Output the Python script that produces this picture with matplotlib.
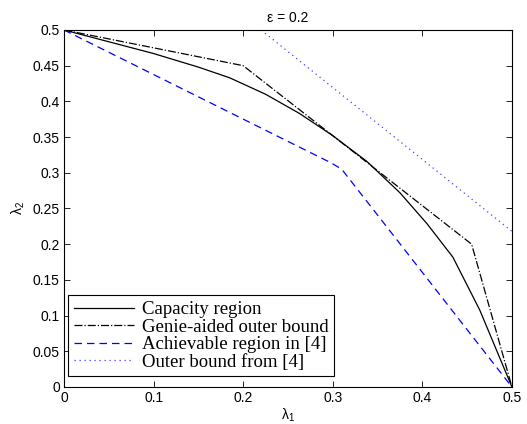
import numpy as np
import matplotlib
matplotlib.use('Agg')
import matplotlib.pyplot as plt

plt.rcParams['font.family'] = ['Liberation Sans', 'DejaVu Sans']
plt.rcParams['mathtext.fontset'] = 'custom'
plt.rcParams['mathtext.rm'] = 'Liberation Sans'

# capacity region (solid)
cap_x = [0.0, 0.1, 0.15, 0.185, 0.225, 0.263, 0.3, 0.338, 0.375, 0.405, 0.434, 0.464, 0.5]
cap_y = [0.5, 0.467, 0.448, 0.433, 0.41, 0.383, 0.352, 0.316, 0.272, 0.229, 0.182, 0.108, 0.0]

# genie-aided outer bound (dash-dot)
gen_x = [0.0, 0.2, 0.455, 0.5]
gen_y = [0.5, 0.45, 0.2, 0.0]

# achievable region in [4] (dashed)
ach_x = [0.0, 0.298, 0.31, 0.5]
ach_y = [0.5, 0.314, 0.305, 0.0]

# outer bound from [4] (dotted)
ob_x = [0.22, 0.5]
ob_y = [0.5, 0.218]

fig = plt.figure(figsize=(5.27, 4.24), dpi=100)
ax = fig.add_axes([0.1214, 0.0873, 0.850, 0.842])

ax.plot(cap_x, cap_y, color='black', ls='-', lw=0.9, label='Capacity region')
ax.plot(gen_x, gen_y, color='black', ls='-.', lw=0.9, label='Genie-aided outer bound')
ax.plot(ach_x, ach_y, color='#0000ff', ls=(0, (6, 4)), lw=0.9,
        label='Achievable region in [4]')
ax.plot(ob_x, ob_y, color='#4040ff', ls=(0, (1, 3)), lw=0.9,
        label='Outer bound from [4]')

ax.set_xlim(0, 0.5)
ax.set_ylim(0, 0.5)
ax.set_xticks([0, 0.1, 0.2, 0.3, 0.4, 0.5])
ax.set_xticklabels(['0', '0.1', '0.2', '0.3', '0.4', '0.5'])
ax.set_yticks([0, 0.05, 0.1, 0.15, 0.2, 0.25, 0.3, 0.35, 0.4, 0.45, 0.5])
ax.set_yticklabels(['0', '0.05', '0.1', '0.15', '0.2', '0.25', '0.3',
                    '0.35', '0.4', '0.45', '0.5'])
ax.tick_params(direction='in', top=True, right=True, labelsize=10,
               length=4, width=0.6, pad=3)
for sp in ax.spines.values():
    sp.set_linewidth(0.8)

ax.set_xlabel('λ$_1$', fontsize=10, labelpad=1)
ax.set_ylabel('λ$_2$', fontsize=10, labelpad=4)
ax.set_title('ε = 0.2', fontsize=10, pad=6)

leg = ax.legend(loc='lower left', bbox_to_anchor=(0.009, 0.03),
                prop={'family': 'Liberation Serif', 'size': 13.5},
                handlelength=3.2, handletextpad=0.45, borderpad=0.3,
                labelspacing=0.02, fancybox=False, framealpha=1,
                edgecolor='black', borderaxespad=0.0)
leg.get_frame().set_linewidth(0.8)

fig.savefig('out.png', dpi=100)
